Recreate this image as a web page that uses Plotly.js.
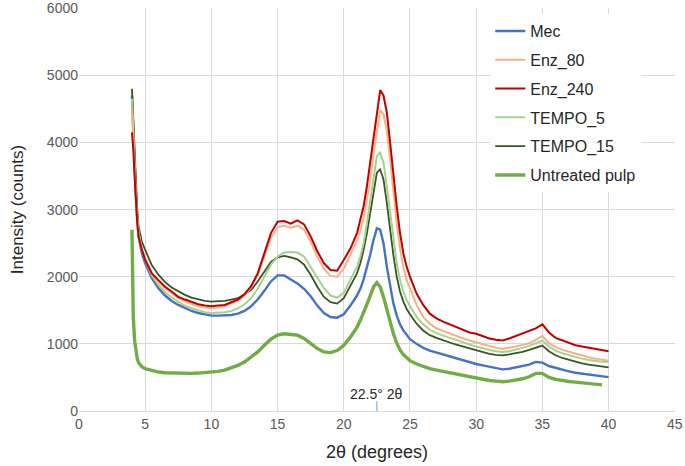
<!DOCTYPE html>
<html>
<head>
<meta charset="utf-8">
<script src="https://cdn.plot.ly/plotly-3.0.1.min.js"></script>
<style>
  html, body { margin: 0; padding: 0; background: #fff; }
  #chart { width: 685px; height: 466px; }
</style>
</head>
<body>
<div id="chart"></div>
<script>
/* XRD patterns - intensity vs 2theta */

const twoTheta = [4, 4.1, 4.2, 4.3, 4.4, 4.5, 4.75, 5, 5.5, 6, 6.5, 7, 7.5, 8, 8.5, 9, 9.5, 10,
    10.5, 11, 11.5, 12, 12.5, 13, 13.5, 14, 14.5, 15, 15.5, 16, 16.5, 17, 17.5, 18, 18.5, 19, 19.5, 20,
    20.5, 21, 21.25, 21.5, 21.75, 22, 22.25, 22.5, 22.75, 23, 23.25, 23.5, 23.75, 24, 24.25, 24.5, 24.75, 25,
    25.5, 26, 26.5, 27, 27.5, 28, 28.5, 29, 29.5, 30, 30.5, 31, 31.5, 32, 32.5, 33, 33.5, 34, 34.5, 35,
    35.5, 36, 36.5, 37, 37.5, 38, 38.5, 39, 39.5, 40];

const mec = [4700, 4150, 3650, 3200, 2850, 2600, 2350, 2200, 1980, 1830, 1720, 1640, 1580, 1530, 1490, 1460, 1440, 1420,
    1420, 1420, 1430, 1450, 1490, 1560, 1660, 1790, 1930, 2020, 2020, 1960, 1900, 1820, 1710, 1570, 1460, 1400, 1390, 1440,
    1570, 1720, 1820, 1960, 2130, 2330, 2550, 2720, 2700, 2500, 2150, 1850, 1600, 1420, 1290, 1200, 1130, 1070,
    1000, 940, 900, 870, 840, 810, 780, 760, 730, 700, 680, 660, 640, 620, 630, 650, 670, 690, 730, 720,
    670, 640, 610, 590, 570, 555, 540, 525, 515, 505];

const enz80 = [4500, 4000, 3550, 3150, 2850, 2650, 2420, 2280, 2050, 1930, 1830, 1750, 1680, 1630, 1590, 1560, 1540, 1530,
    1540, 1560, 1600, 1640, 1720, 1840, 2020, 2300, 2580, 2740, 2760, 2730, 2760, 2700, 2520, 2300, 2120, 2010, 2000, 2120,
    2320, 2540, 2700, 2880, 3150, 3450, 3850, 4200, 4480, 4420, 4180, 3750, 3250, 2800, 2420, 2150, 1950, 1830,
    1580, 1400, 1300, 1230, 1190, 1150, 1110, 1080, 1050, 1020, 990, 960, 940, 925, 940, 960, 985, 1010, 1060, 1120,
    1010, 950, 910, 880, 850, 820, 800, 780, 760, 750];

const enz240 = [4150, 3900, 3500, 3100, 2800, 2600, 2400, 2250, 2050, 1950, 1850, 1780, 1700, 1660, 1620, 1590, 1570, 1560,
    1570, 1580, 1620, 1660, 1740, 1860, 2050, 2350, 2650, 2820, 2830, 2790, 2840, 2780, 2600, 2380, 2200, 2100, 2090, 2250,
    2420, 2650, 2850, 3050, 3350, 3700, 4100, 4450, 4780, 4700, 4450, 4000, 3500, 3050, 2650, 2350, 2150, 2000,
    1750, 1580, 1450, 1380, 1330, 1290, 1250, 1200, 1170, 1150, 1110, 1080, 1060, 1050, 1080, 1120, 1150, 1190, 1230, 1290,
    1170, 1090, 1050, 1010, 980, 960, 940, 930, 910, 890];

const tempo5 = [4650, 4100, 3600, 3200, 2900, 2650, 2400, 2250, 2020, 1880, 1770, 1690, 1630, 1570, 1530, 1500, 1470, 1460,
    1460, 1470, 1490, 1530, 1590, 1680, 1820, 2000, 2180, 2300, 2360, 2370, 2360, 2300, 2150, 1980, 1830, 1720, 1690, 1760,
    1950, 2150, 2300, 2500, 2800, 3150, 3500, 3800, 3850, 3700, 3350, 2950, 2550, 2200, 1950, 1780, 1650, 1560,
    1400, 1290, 1210, 1160, 1120, 1090, 1060, 1020, 990, 960, 930, 910, 890, 880, 890, 910, 940, 970, 1010, 1050,
    960, 900, 860, 830, 800, 780, 760, 745, 735, 730];

const tempo15 = [4800, 4300, 3800, 3350, 3000, 2750, 2520, 2400, 2170, 2030, 1920, 1840, 1780, 1730, 1690, 1660, 1640, 1630,
    1630, 1640, 1660, 1680, 1740, 1800, 1930, 2080, 2220, 2290, 2310, 2290, 2260, 2180, 2030, 1850, 1700, 1620, 1600, 1680,
    1860, 2050, 2200, 2400, 2650, 2950, 3280, 3550, 3600, 3450, 3100, 2700, 2320, 2000, 1780, 1630, 1520, 1440,
    1300, 1200, 1130, 1090, 1050, 1020, 990, 960, 930, 900, 870, 850, 835, 830, 845, 860, 880, 910, 940, 975,
    890, 830, 790, 760, 735, 710, 690, 675, 660, 650];

const untreated = [2700, 1400, 1050, 880, 780, 720, 660, 630, 600, 580, 570, 565, 560, 555, 560, 565, 570, 580,
    590, 610, 640, 680, 730, 800, 880, 980, 1070, 1130, 1150, 1140, 1130, 1080, 1000, 930, 880, 870, 900, 980,
    1100, 1250, 1350, 1460, 1590, 1720, 1850, 1910, 1850, 1700, 1500, 1320, 1150, 1010, 910, 840, 790, 750,
    700, 660, 630, 610, 590, 570, 550, 530, 510, 490, 470, 455, 445, 435, 445, 460, 480, 510, 560, 560,
    500, 470, 450, 440, 430, 420, 410, 400, 390, null];

const seriesNames = ['Mec', 'Enz_80', 'Enz_240', 'TEMPO_5', 'TEMPO_15', 'Untreated pulp'];
const seriesData = [mec, enz80, enz240, tempo5, tempo15, untreated];
const seriesColors = ['#4472c4', '#f4b183', '#c00000', '#a9d18e', '#375623', '#70ad47'];
const seriesWidths = [2.4, 2, 2, 2, 1.8, 3.4];

const xTicks = [0, 5, 10, 15, 20, 25, 30, 35, 40, 45];
const yTicks = [0, 1000, 2000, 3000, 4000, 5000, 6000];
const markerPos = 22.5;
const markerLabel = '22.5° 2θ';

// draw order: untreated at the back, as in the picture
const drawOrder = [5, 0, 4, 3, 1, 2];
const traces = drawOrder.map(i => ({
    x: twoTheta,
    y: seriesData[i],
    type: 'scatter',
    mode: 'lines',
    name: seriesNames[i],
    legendgroup: 'g' + i,
    legendrank: i + 1,
    line: { color: seriesColors[i], width: seriesWidths[i] },
    connectgaps: false,
}));

const gridColor = '#d9d9d9';
const layout = {
    width: 685,
    height: 466,
    margin: { l: 79, r: 10, t: 8, b: 55 },
    paper_bgcolor: '#fff',
    plot_bgcolor: '#fff',
    font: { family: 'Liberation Sans, Arial, sans-serif', color: '#404040' },
    showlegend: true,
    legend: {
        x: 0.69, xanchor: 'left',
        y: 0.985, yanchor: 'top',
        bgcolor: '#fff',
        font: { size: 16, color: '#262626' },
        traceorder: 'grouped',
        tracegroupgap: 5,
        itemwidth: 30,
    },
    xaxis: {
        range: [0, 45.02],
        tickvals: xTicks,
        showgrid: true,
        gridcolor: gridColor,
        zeroline: false,
        showline: true,
        linecolor: gridColor,
        ticks: '',
        ticklabeloverflow: 'allow',
        tickfont: { size: 14, color: '#595959' },
        title: { text: '2θ (degrees)', font: { size: 18, color: '#262626' }, standoff: 14 },
    },
    yaxis: {
        range: [0, 6003],
        tickvals: yTicks,
        showgrid: true,
        gridcolor: gridColor,
        zeroline: false,
        showline: false,
        ticks: '',
        ticklabeloverflow: 'allow',
        tickfont: { size: 14, color: '#595959' },
        title: { text: 'Intensity (counts)', font: { size: 17, color: '#262626' }, standoff: 18 },
    },
    shapes: [{
        type: 'line', xref: 'x', yref: 'y',
        x0: markerPos, x1: markerPos, y0: 0, y1: 150,
        line: { color: '#9dc3e6', width: 1.5 },
    }],
    annotations: [{
        x: markerPos, y: 260, xref: 'x', yref: 'y',
        text: markerLabel,
        showarrow: false,
        font: { size: 14, color: '#262626', family: 'Liberation Sans, Arial, sans-serif' },
    }],
};

Plotly.newPlot('chart', traces, layout, { staticPlot: true, displayModeBar: false });
</script>
</body>
</html>
